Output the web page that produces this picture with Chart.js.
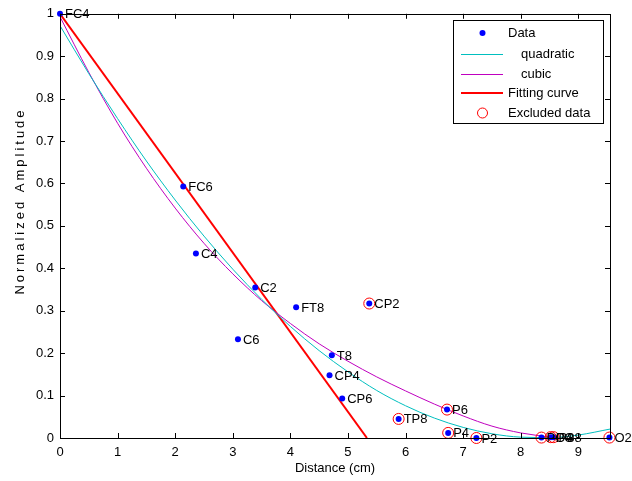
<!DOCTYPE html>
<html>
<head>
<meta charset="utf-8">
<script src="https://cdn.jsdelivr.net/npm/chart.js@4.4.0/dist/chart.umd.min.js"></script>
<style>
html, body { margin: 0; padding: 0; background: #fff; }
</style>
</head>
<body>
<canvas id="c" width="632" height="481"></canvas>
<script>
// electrodes: name, distance (cm), normalized amplitude
const names = ['FC4', 'FC6', 'C4', 'C2', 'C6', 'FT8', 'T8', 'CP4', 'CP6',
               'CP2', 'TP8', 'P6', 'P4', 'P2', 'PO4', 'PO8', 'P8', 'O2'];
const dist = [0, 2.14, 2.36, 3.39, 3.09, 4.10, 4.72, 4.68, 4.90,
              5.37, 5.88, 6.72, 6.74, 7.23, 8.36, 8.52, 8.57, 9.54];
const amp = [1.0, 0.593, 0.435, 0.355, 0.233, 0.308, 0.195, 0.148, 0.093,
             0.317, 0.045, 0.067, 0.012, 0.0, 0.001, 0.002, 0.002, 0.001];
const excluded = ['CP2', 'TP8', 'P6', 'P4', 'P2', 'PO4', 'PO8', 'P8', 'O2'];

// fitted curves
const curveDist = [0, 0.5, 1, 1.5, 2, 2.5, 3, 3.5, 4, 4.5, 5, 5.5, 6, 6.5, 7, 7.5, 8, 8.5, 9, 9.55];
const quadAmp = [0.972, 0.859, 0.753, 0.653, 0.561, 0.476, 0.398, 0.327, 0.263, 0.206,
                 0.156, 0.112, 0.076, 0.047, 0.025, 0.010, 0.002, 0.001, 0.007, 0.021];
const cubicAmp = [0.993, 0.862, 0.742, 0.636, 0.542, 0.459, 0.387, 0.324, 0.270, 0.222,
                  0.181, 0.144, 0.111, 0.080, 0.052, 0.028, 0.012, 0.002, -0.010, -0.025];
const fitDist = [0, 5.33];
const fitAmp = [1, 0];

const xTickLabels = ['0', '1', '2', '3', '4', '5', '6', '7', '8', '9'];
const yTickLabels = ['0', '0.1', '0.2', '0.3', '0.4', '0.5', '0.6', '0.7', '0.8', '0.9', '1'];

const FONT = "'Liberation Sans', Arial, sans-serif";
const CYAN = 'rgb(0,191,191)';
const MAGENTA = 'rgb(191,0,191)';

function pts(xs, ys) {
    return xs.map((x, i) => ({x: x, y: ys[i]}));
}

const allPts = pts(dist, amp);
const exclPts = allPts.filter((p, i) => excluded.includes(names[i]));

// point labels next to each dot
const labelPlugin = {
    id: 'labels',
    afterDatasetsDraw(chart) {
        const ctx = chart.ctx;
        const xs = chart.scales.x, ys = chart.scales.y;
        ctx.save();
        ctx.font = '13px ' + FONT;
        ctx.fillStyle = '#000';
        ctx.textBaseline = 'middle';
        names.forEach((n, i) => {
            ctx.fillText(n, xs.getPixelForValue(dist[i]) + 5, ys.getPixelForValue(amp[i]) + 1);
        });
        ctx.restore();
    }
};

// matlab style box, inward ticks, y label and legend
const boxPlugin = {
    id: 'box',
    afterDraw(chart) {
        const ctx = chart.ctx;
        const a = chart.chartArea;
        const xs = chart.scales.x, ys = chart.scales.y;
        ctx.save();
        ctx.strokeStyle = '#000';
        ctx.lineWidth = 1;
        ctx.strokeRect(Math.round(a.left) + 0.5, Math.round(a.top) + 0.5,
                       Math.round(a.right - a.left), Math.round(a.bottom - a.top));
        ctx.beginPath();
        xTickLabels.forEach(t => {
            const px = Math.round(xs.getPixelForValue(+t)) + 0.5;
            ctx.moveTo(px, a.bottom); ctx.lineTo(px, a.bottom - 5);
            ctx.moveTo(px, a.top); ctx.lineTo(px, a.top + 5);
        });
        yTickLabels.forEach(t => {
            const py = Math.round(ys.getPixelForValue(+t)) + 0.5;
            ctx.moveTo(a.left, py); ctx.lineTo(a.left + 5, py);
            ctx.moveTo(a.right, py); ctx.lineTo(a.right - 5, py);
        });
        ctx.stroke();

        // rotated y label, spaced out like the old matlab export
        ctx.save();
        ctx.translate(20, 201);
        ctx.rotate(-Math.PI / 2);
        ctx.font = '13px ' + FONT;
        ctx.letterSpacing = '3px';
        ctx.fillStyle = '#000';
        ctx.textAlign = 'center';
        ctx.textBaseline = 'middle';
        ctx.fillText('Normalized Amplitude', 0, 0);
        ctx.restore();

        // legend
        const L = 453.5, T = 20.5, W = 150, H = 103;
        ctx.fillStyle = '#fff';
        ctx.fillRect(L, T, W, H);
        ctx.strokeRect(L, T, W, H);
        ctx.font = '13px ' + FONT;
        ctx.textBaseline = 'middle';
        ctx.fillStyle = '#000';
        const rows = [
            {text: 'Data', y: 33, tx: 508},
            {text: 'quadratic', y: 54, tx: 521},
            {text: 'cubic', y: 74, tx: 521},
            {text: 'Fitting curve', y: 93, tx: 508},
            {text: 'Excluded data', y: 113, tx: 508}
        ];
        rows.forEach(r => ctx.fillText(r.text, r.tx, r.y));
        ctx.fillStyle = 'blue';
        ctx.beginPath(); ctx.arc(482.5, 33, 3, 0, Math.PI * 2); ctx.fill();
        ctx.lineWidth = 1;
        ctx.strokeStyle = CYAN;
        ctx.beginPath(); ctx.moveTo(461, 54.5); ctx.lineTo(503, 54.5); ctx.stroke();
        ctx.strokeStyle = MAGENTA;
        ctx.beginPath(); ctx.moveTo(461, 74.5); ctx.lineTo(503, 74.5); ctx.stroke();
        ctx.strokeStyle = 'red';
        ctx.lineWidth = 2;
        ctx.beginPath(); ctx.moveTo(461, 93); ctx.lineTo(503, 93); ctx.stroke();
        ctx.lineWidth = 1;
        ctx.beginPath(); ctx.arc(482.5, 113, 5, 0, Math.PI * 2); ctx.stroke();
        ctx.restore();
    }
};

new Chart(document.getElementById('c'), {
    type: 'scatter',
    data: {
        datasets: [
            {label: 'Excluded data', data: exclPts, pointStyle: 'circle', pointRadius: 5.5,
             pointBorderColor: 'red', pointBackgroundColor: 'rgba(0,0,0,0)', pointBorderWidth: 1, clip: false},
            {label: 'Data', data: allPts, pointRadius: 3, pointBorderWidth: 0,
             pointBackgroundColor: 'blue', clip: false},
            {label: 'quadratic', data: pts(curveDist, quadAmp), showLine: true, pointRadius: 0,
             borderColor: CYAN, borderWidth: 1, cubicInterpolationMode: 'monotone'},
            {label: 'cubic', data: pts(curveDist, cubicAmp), showLine: true, pointRadius: 0,
             borderColor: MAGENTA, borderWidth: 1, cubicInterpolationMode: 'monotone'},
            {label: 'Fitting curve', data: pts(fitDist, fitAmp), showLine: true, pointRadius: 0,
             borderColor: 'red', borderWidth: 2}
        ]
    },
    options: {
        responsive: false,
        animation: false,
        events: [],
        layout: {padding: {left: 0, right: 22, top: 13, bottom: 0}},
        plugins: {legend: {display: false}, tooltip: {enabled: false}},
        scales: {
            x: {
                type: 'linear', min: 0, max: 9.55,
                grid: {display: false, drawTicks: false},
                border: {display: false},
                ticks: {stepSize: 1, includeBounds: false, padding: 7, color: '#000',
                        font: {family: FONT, size: 13},
                        callback: (v) => xTickLabels[v] !== undefined ? xTickLabels[v] : ''},
                title: {display: true, text: 'Distance (cm)', color: '#000',
                        font: {family: FONT, size: 13}, padding: {top: 0, bottom: 5}},
                afterFit: (s) => { s.height = 43; }
            },
            y: {
                type: 'linear', min: 0, max: 1,
                grid: {display: false, drawTicks: false},
                border: {display: false},
                ticks: {stepSize: 0.1, padding: 6, color: '#000',
                        font: {family: FONT, size: 13},
                        callback: (v) => yTickLabels[Math.round(v * 10)]},
                afterFit: (s) => { s.width = 60; }
            }
        }
    },
    plugins: [labelPlugin, boxPlugin]
});
</script>
</body>
</html>
